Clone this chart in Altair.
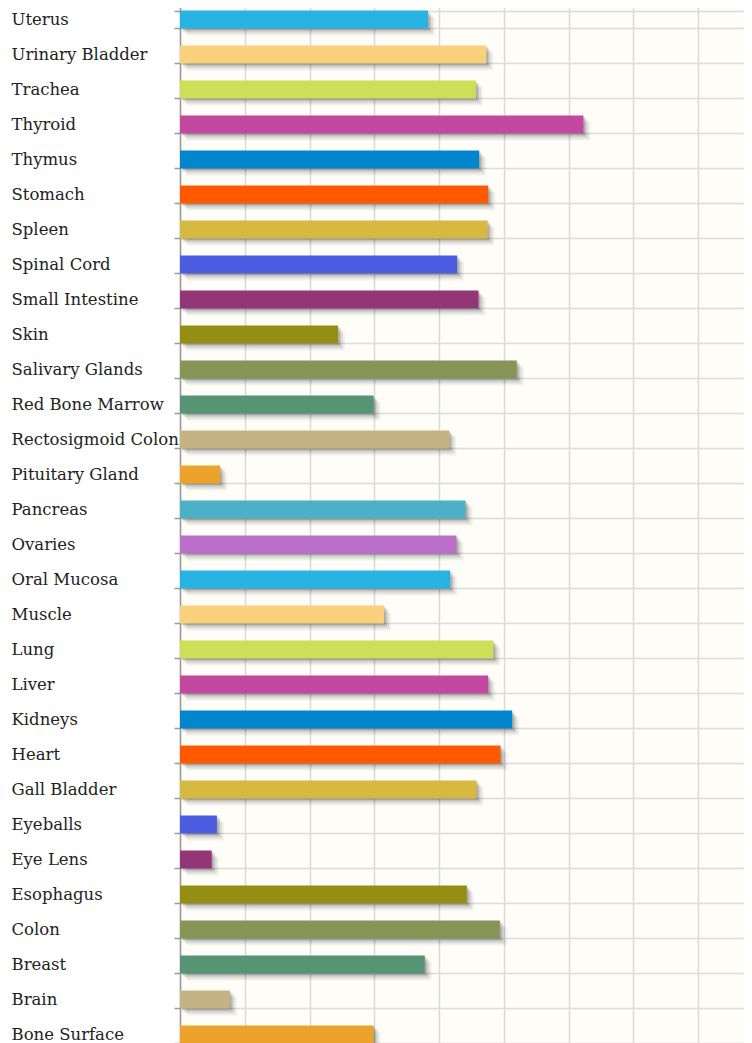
import altair as alt
import pandas as pd

organs = ["Uterus", "Urinary Bladder", "Trachea", "Thyroid", "Thymus", "Stomach",
          "Spleen", "Spinal Cord", "Small Intestine", "Skin", "Salivary Glands",
          "Red Bone Marrow", "Rectosigmoid Colon", "Pituitary Gland", "Pancreas",
          "Ovaries", "Oral Mucosa", "Muscle", "Lung", "Liver", "Kidneys", "Heart",
          "Gall Bladder", "Eyeballs", "Eye Lens", "Esophagus", "Colon", "Breast",
          "Brain", "Bone Surface"]
values = [38.3, 47.3, 45.7, 62.3, 46.2, 47.6, 47.5, 42.8, 46.1, 24.4, 52.0,
          29.9, 41.6, 6.2, 44.1, 42.7, 41.7, 31.5, 48.4, 47.6, 51.3, 49.5,
          45.8, 5.7, 4.9, 44.3, 49.4, 37.8, 7.7, 29.9]
colors = ["#27B3E3", "#F9D07B", "#CDDF56", "#C548A0", "#0086CC", "#FF5A00",
          "#D8B940", "#4A5CE0", "#933677", "#958E14", "#869455", "#569574",
          "#C6B383", "#EBA32B", "#4DB1C6", "#BB6FC8",
          "#27B3E3", "#F9D07B", "#CDDF56", "#C548A0", "#0086CC", "#FF5A00",
          "#D8B940", "#4A5CE0", "#933677", "#958E14", "#869455", "#569574",
          "#C6B383", "#EBA32B"]
grid_values = [0, 10, 20, 30, 40, 50, 60, 70, 80]

df = pd.DataFrame({"organ": organs, "value": values, "color": colors})

y_enc = alt.Y(
    "organ:N", sort=organs,
    scale=alt.Scale(range=[-6, 1044], paddingInner=0.486, paddingOuter=0.243),
    axis=alt.Axis(title=None, tickBand="extent", grid=True, gridColor="#dcdcdc",
                  gridWidth=1.5, domainColor="#9a9a9a", domainWidth=1.5,
                  tickColor="#9a9a9a", tickSize=6, tickWidth=1.5,
                  labelAlign="left", labelPadding=163, labelFont="DejaVu Serif",
                  labelFontSize=16.5, labelColor="#222222", labelLimit=220),
)
x_enc = alt.X(
    "value:Q",
    scale=alt.Scale(domain=[0, 87.1], nice=False, zero=True),
    axis=alt.Axis(values=grid_values, labels=False, ticks=False, domain=False,
                  title=None, grid=True, gridColor="#d9d9d9", gridWidth=1.5),
)

base = alt.Chart(df).encode(x=x_enc, y=y_enc)

shadows = [
    base.mark_bar(color="#000000", opacity=op, xOffset=o, x2Offset=o, yOffset=o, y2Offset=o)
    for o, op in [(7, 0.05), (5, 0.08), (3, 0.12), (1.5, 0.12)]
]
bars = base.mark_bar().encode(color=alt.Color("color:N", scale=None))

chart = alt.layer(*shadows, bars).properties(
    width=564, height=1035,
    autosize=alt.AutoSizeParams(type="none"),
    padding={"left": 172, "top": 0, "right": 0, "bottom": 0},
    background="white",
).configure_view(fill="#fffdf7", stroke=None)

chart.save("out.html", embed_options={"renderer": "svg", "actions": False})
